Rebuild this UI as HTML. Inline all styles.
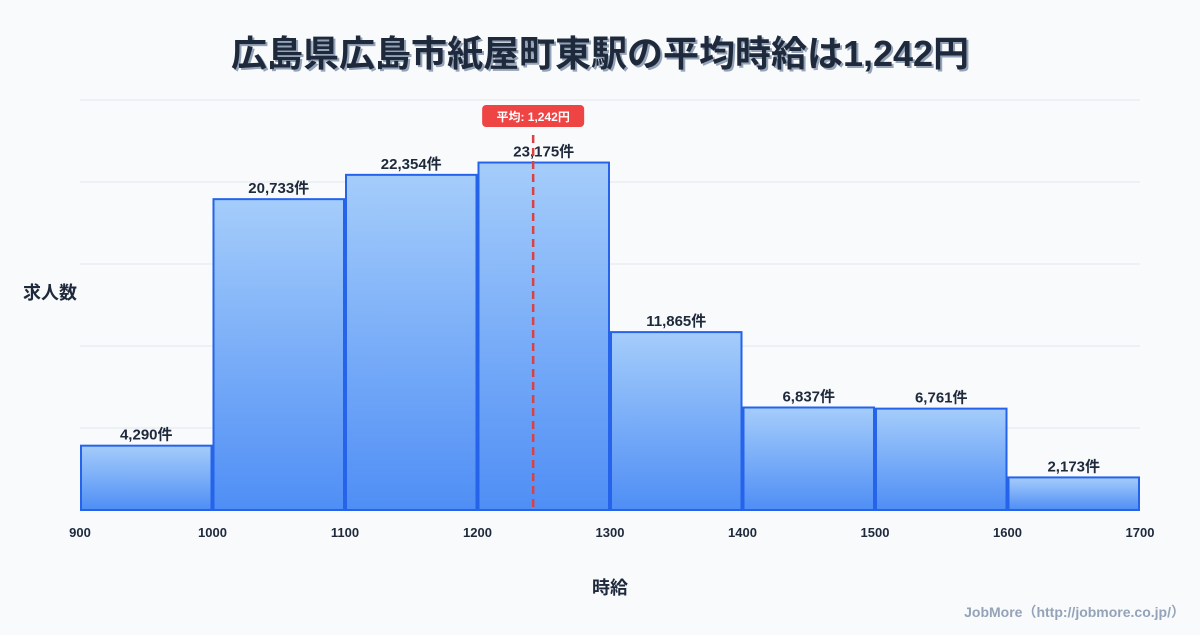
<!DOCTYPE html>
<html><head><meta charset="utf-8"><style>
body{margin:0;background:#f8fafc;font-family:"Liberation Sans","Noto Sans CJK JP",sans-serif;}
svg text{font-family:"Liberation Sans","Noto Sans CJK JP",sans-serif;}
</style></head><body>
<svg id="chart" width="1200" height="630" viewBox="0 0 1200 630" xmlns="http://www.w3.org/2000/svg">
<defs><linearGradient id="g" x1="0" y1="0" x2="0" y2="1"><stop offset="0" stop-color="#a5cdfb"/><stop offset="1" stop-color="#4f8ef5"/></linearGradient></defs>
<rect width="1200" height="630" fill="#f8fafc"/>
<text x="602" y="68" text-anchor="middle" font-size="36" font-weight="bold" fill="#94a3b8">広島県広島市紙屋町東駅の平均時給は1,242円</text>
<text x="600" y="66" text-anchor="middle" font-size="36" font-weight="bold" fill="#1e293b">広島県広島市紙屋町東駅の平均時給は1,242円</text>
<g id="grid"></g><g id="bars"></g><g id="xt"></g><g id="mean"></g>
<text x="50" y="299" text-anchor="middle" font-size="18" font-weight="bold" fill="#1e293b">求人数</text>
<text x="610" y="594" text-anchor="middle" font-size="18" font-weight="bold" fill="#1e293b">時給</text>
<text x="1185" y="617" text-anchor="end" font-size="14" font-weight="bold" fill="#94a3b8">JobMore（http://jobmore.co.jp/）</text>
</svg>
<script>
const binStarts=[900,1000,1100,1200,1300,1400,1500,1600];
const counts=[4290,20733,22354,23175,11865,6837,6761,2173];
const xTicks=[900,1000,1100,1200,1300,1400,1500,1600,1700];
const meanValue=1242;
const NS="http://www.w3.org/2000/svg";
const x0=80,x1=1140,yb=510,yt=100,xmin=900,xmax=1700;
const ymax=Math.max(...counts)*1.18;
const X=v=>x0+(v-xmin)/(xmax-xmin)*(x1-x0);
const Y=v=>yb-v/ymax*(yb-yt);
function mk(t,a,p){const e=document.createElementNS(NS,t);for(const k in a)e.setAttribute(k,a[k]);p.appendChild(e);return e;}
const grid=document.getElementById('grid');
for(let i=0;i<=5;i++){const y=yb-i*(yb-yt)/5;const l=mk('line',{x1:x0,x2:x1,y1:y,y2:y,stroke:'#e2e8f0','stroke-width':1},grid);

}
const bars=document.getElementById('bars');
binStarts.forEach((b,i)=>{const xa=X(b)+1,xb=X(b+100)-1,y=Y(counts[i]);
const r=mk('rect',{x:xa,y:y,width:xb-xa,height:yb-y,fill:'url(#g)',stroke:'#2563eb','stroke-width':2},bars);


const t=mk('text',{x:(xa+xb)/2,y:y-6,'text-anchor':'middle','font-size':15,'font-weight':'bold',fill:'#1e293b'},bars);
t.textContent=counts[i].toLocaleString('en-US')+'件';

});
const xt=document.getElementById('xt');
xTicks.forEach(v=>{const t=mk('text',{x:X(v),y:537,'text-anchor':'middle','font-size':13,'font-weight':'bold',fill:'#1e293b'},xt);t.textContent=v;

});
const m=document.getElementById('mean');const mx=X(meanValue);
const ml=mk('line',{x1:mx,x2:mx,y1:135,y2:yb,stroke:'#dc4040','stroke-width':2.5,'stroke-dasharray':'8,5'},m);


const mb=mk('rect',{x:mx-51,y:105,width:102,height:22,rx:4,fill:'#ef4444'},m);


const mt=mk('text',{x:mx,y:121,'text-anchor':'middle','font-size':12,'font-weight':'bold',fill:'#fff'},m);
mt.textContent='平均: '+meanValue.toLocaleString('en-US')+'円';


</script>
</body></html>
